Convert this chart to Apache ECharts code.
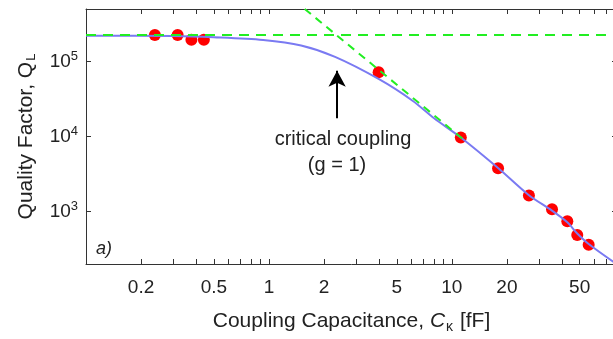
<!DOCTYPE html>
<html>
<head>
<meta charset="utf-8">
<script src="https://cdn.jsdelivr.net/npm/echarts@6/dist/echarts.min.js"></script>
<style>
  html, body { margin: 0; padding: 0; overflow: hidden; background: #fff; }
  #chart { width: 620px; height: 339px; }
</style>
</head>
<body>
<div id="chart"></div>
<script>
// measured points (coupling capacitance in fF, loaded Q)
const dotC = [0.238, 0.317, 0.377, 0.441, 3.98, 11.2, 17.9, 26.4, 35.3, 42.8, 48.5, 56];
const dotQ = [2.25e5, 2.25e5, 1.95e5, 1.95e5, 7.2e4, 9.7e3, 3.78e3, 1.64e3, 1.07e3, 740, 486, 361];

// model curve
const fitC = [0.1, 0.3, 0.5, 0.93, 1.5, 2.3, 4, 6.1, 8, 11.2, 17.9, 26.4, 35.3, 42.8, 48.5, 56, 80];
const fitQ = [2.2e5, 2.18e5, 2.1e5, 1.93e5, 1.63e5, 1.15e5, 5.8e4, 3.0e4, 1.75e4, 9.7e3, 3.8e3, 1.65e3, 1.03e3, 720, 510, 370, 198];

// asymptotes (dashed green)
const internalC = [0.1, 80];
const internalQ = [2.25e5, 2.25e5];
const externalC = [1.57, 12];
const externalQ = [5.0e5, 8.5e3];

// critical coupling arrow
const arrowC = [2.36, 2.36];
const arrowQ = [1.75e4, 7.5e4];

const xTicks = [0.2, 0.3, 0.4, 0.5, 0.6, 0.7, 0.8, 0.9, 1, 2, 3, 4, 5, 6, 7, 8, 9, 10, 20, 30, 40, 50, 60, 70];
const xLabels = [0.2, 0.5, 1, 2, 5, 10, 20, 50];
const yTicks = [1e3, 1e4, 1e5];

const font = 'Liberation Sans, Arial, sans-serif';
const ink = '#222';
const pairs = (xs, ys) => xs.map((x, i) => [x, ys[i]]);

const chart = echarts.init(document.getElementById('chart'));

const xBase = {
    type: 'log',
    min: 0.1,
    max: 80,
    axisLine: { show: true, onZero: false, lineStyle: { color: '#333', width: 1 } },
    axisTick: { show: true, inside: true, length: 5, customValues: xTicks, lineStyle: { color: '#333' } },
    splitLine: { show: false },
    minorTick: { show: false }
};
const yBase = {
    type: 'log',
    min: 200,
    max: 5e5,
    axisLine: { show: true, onZero: false, lineStyle: { color: '#333', width: 1 } },
    axisTick: { show: true, inside: true, length: 5, customValues: yTicks, lineStyle: { color: '#333' } },
    splitLine: { show: false }
};

chart.setOption({
    animation: false,
    grid: { left: 86, right: 3, top: 9, bottom: 72 },
    xAxis: [
        Object.assign({}, xBase, {
            position: 'bottom',
            axisLabel: {
                customValues: xLabels,
                margin: 14,
                fontSize: 19,
                fontFamily: font,
                color: ink,
                formatter: v => String(Number(v.toPrecision(3)))
            },
            name: 'Coupling Capacitance, {it|C}{sub|κ} [fF]',
            nameLocation: 'middle',
            nameGap: 44,
            nameTextStyle: {
                fontSize: 21,
                fontFamily: font,
                color: ink,
                rich: {
                    it: { fontSize: 21, fontFamily: font, fontStyle: 'italic', color: ink },
                    sub: { fontSize: 14, fontFamily: font, color: ink, padding: [12, 1, 0, 1] }
                }
            }
        }),
        Object.assign({}, xBase, { position: 'top', axisLabel: { show: false } })
    ],
    yAxis: [
        Object.assign({}, yBase, {
            position: 'left',
            axisLabel: {
                customValues: yTicks,
                margin: 8,
                fontSize: 19,
                fontFamily: font,
                color: ink,
                formatter: v => '10{sup|' + Math.round(Math.log10(v)) + '}',
                rich: { sup: { fontSize: 13, fontFamily: font, color: ink, padding: [0, 0, 10, 0] } }
            },
            name: 'Quality Factor, Q{sub|L}',
            nameLocation: 'middle',
            nameGap: 48,
            nameTextStyle: {
                fontSize: 21,
                fontFamily: font,
                color: ink,
                rich: { sub: { fontSize: 13, fontFamily: font, color: ink, padding: [10, 0, 0, 1] } }
            }
        }),
        Object.assign({}, yBase, { position: 'right', axisLabel: { show: false } })
    ],
    series: [
        {
            type: 'line',
            data: pairs(fitC, fitQ),
            smooth: 0.3,
            showSymbol: false,
            lineStyle: { color: '#7a7af2', width: 2 }
        },
        {
            type: 'line',
            data: pairs(internalC, internalQ),
            showSymbol: false,
            lineStyle: { color: '#22ee22', width: 2, type: [10, 7] }
        },
        {
            type: 'line',
            data: pairs(externalC, externalQ),
            showSymbol: false,
            lineStyle: { color: '#22ee22', width: 2, type: [8, 6] }
        },
        {
            type: 'scatter',
            data: pairs(dotC, dotQ),
            symbolSize: 12,
            itemStyle: { color: '#ff0000', opacity: 1 },
            markLine: {
                silent: true,
                symbol: ['none', 'arrow'],
                symbolSize: [13, 16],
                label: { show: false },
                lineStyle: { color: '#000', width: 2, type: 'solid' },
                data: [[{ coord: [arrowC[0], arrowQ[0]] }, { coord: [arrowC[1], arrowQ[1]] }]]
            }
        }
    ],
    graphic: [
        {
            type: 'text', x: 343, y: 139,
            style: { text: 'critical coupling', font: '20px ' + font, fill: ink, align: 'center', verticalAlign: 'middle' }
        },
        {
            type: 'text', x: 337, y: 165,
            style: { text: '(g = 1)', font: '20px ' + font, fill: ink, align: 'center', verticalAlign: 'middle' }
        },
        {
            type: 'text', x: 96, y: 249,
            style: { text: 'a)', font: 'italic 18px ' + font, fill: ink, align: 'left', verticalAlign: 'middle' }
        }
    ]
});
</script>
</body>
</html>
